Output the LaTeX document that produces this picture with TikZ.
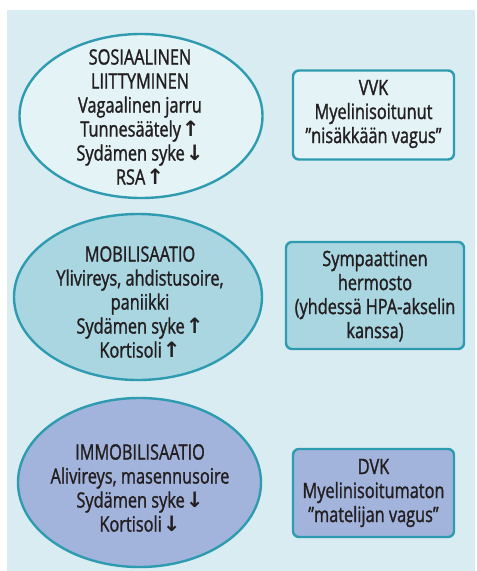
\documentclass[tikz,border=0pt]{standalone}
\usepackage{fontspec}
\setmainfont{Open Sans}[FakeStretch=0.77, FakeBold=1.3]
\newfontfamily\arrfont{DejaVu Sans}
\usetikzlibrary{shapes.geometric}
\definecolor{panel}{HTML}{D8ECF1}
\definecolor{rim}{HTML}{2E9BB1}
\definecolor{social}{HTML}{E4F3F6}
\definecolor{mobil}{HTML}{A9D6E1}
\definecolor{immob}{HTML}{A3B4DC}
\definecolor{ink}{HTML}{231F20}
\newcommand{\upar}{\kern1pt{\arrfont\bfseries ↑}}
\newcommand{\dnar}{\kern1pt{\arrfont\bfseries ↓}}
\tikzset{
  oval/.style={ellipse, draw=rim, line width=2.4pt, inner sep=0pt},
  nervebox/.style={draw=rim, line width=2.4pt, rounded corners=6pt, inner sep=0pt},
  txt/.style={text=ink, align=center, inner sep=0pt,
              font=\fontsize{21.2}{24}\selectfont},
}
\begin{document}
\begin{tikzpicture}[x=1pt, y=-1pt]
  % canvas and light panel
  \fill[white] (0,0) rectangle (477,571);
  \fill[panel] (7,10) rectangle (475,571);
  \useasboundingbox (0,0) rectangle (477,571);

  % social engagement
  \node[oval, fill=social, minimum width=243pt, minimum height=164pt] (e1) at (141,116) {};
  \node[txt] (t1) at (140,117) {SOSIAALINEN\\LIITTYMINEN\\Vagaalinen jarru\\Tunnesäätely\upar\\Sydämen syke\dnar\\RSA\upar};
  \node[nervebox, fill=social, minimum width=161pt, minimum height=89pt] (b1) at (373.5,115) {};
  \node[txt] (u1) at (373.5,114) {VVK\\Myelinisoitunut\\”nisäkkään vagus”};

  % mobilisation
  \node[oval, fill=mobil, minimum width=248pt, minimum height=166pt] (e2) at (138,297) {};
  \node[txt] (t2) at (140,302) {MOBILISAATIO\\Ylivireys, ahdistusoire,\\paniikki\\Sydämen syke\upar\\Kortisoli\upar};
  \node[nervebox, fill=mobil, minimum width=178pt, minimum height=107pt] (b2) at (375,295.5) {};
  \node[txt] (u2) at (375,296) {Sympaattinen\\hermosto\\(yhdessä HPA-akselin\\kanssa)};

  % immobilisation
  \node[oval, fill=immob, minimum width=243pt, minimum height=169pt] (e3) at (139.5,482.5) {};
  \node[txt] (t3) at (140,488) {IMMOBILISAATIO\\Alivireys, masennusoire\\Sydämen syke\dnar\\Kortisoli\dnar};
  \node[nervebox, fill=immob, minimum width=161pt, minimum height=88pt] (b3) at (373.5,493) {};
  \node[txt] (u3) at (373.5,493) {DVK\\Myelinisoitumaton\\”matelijan vagus”};
\end{tikzpicture}
\end{document}
